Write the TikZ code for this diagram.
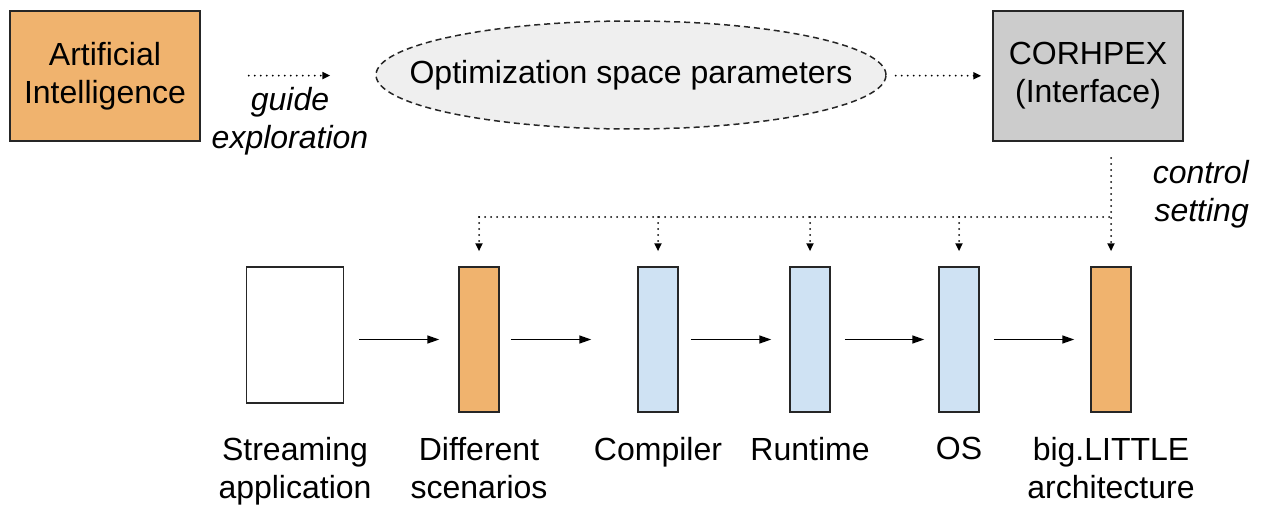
\documentclass[tikz,border=0pt]{standalone}
\usepackage{fontspec}
\setmainfont{Liberation Sans}
\usetikzlibrary{arrows.meta,shapes.geometric,positioning}

\definecolor{aiorange}{HTML}{F0B36E}
\definecolor{stageblue}{HTML}{CFE2F3}
\definecolor{ifgray}{HTML}{CCCCCC}
\definecolor{spacegray}{HTML}{EFEFEF}

\tikzset{
  block/.style={draw=black!85,line width=1.5pt,minimum width=190pt,minimum height=130pt,inner sep=0pt,align=center},
  space/.style={draw=black!85,line width=1.5pt,dash pattern=on 6pt off 4pt,fill=spacegray,ellipse,
                minimum width=510pt,minimum height=108pt,inner sep=0pt},
  stage/.style={draw=black!85,line width=1.5pt,minimum width=40pt,minimum height=145pt,inner sep=0pt},
  lbl/.style={inner sep=0pt,align=center,anchor=north},
  flow/.style={line width=1.5pt,-{Triangle[length=12pt,width=8pt]}},
  ctrl/.style={line width=2pt,line cap=round,dash pattern=on 0pt off 6pt},
  ctrltip/.style={ctrl,-{Triangle[length=8pt,width=7pt]}}
}

\begin{document}
\begin{tikzpicture}[x=1pt,y=-1pt,font=\fontsize{32}{38}\selectfont]
\useasboundingbox (0,0) rectangle (1261,506);

% top row
\node[block,fill=aiorange] (ai) at (105,76) {Artificial\\Intelligence};
\node[space] (opt) at (631,75) {};
\node (opttxt) at (opt) {Optimization space parameters};
\node[block,fill=ifgray] (corh) at (1088,76) {CORHPEX\\(Interface)};

\draw[ctrltip,shorten <=48pt,shorten >=45pt] (ai) -- (opt);
\draw[ctrltip,shorten <=9pt,shorten >=11pt] (opt) -- (corh);
\node[lbl] (guide) at (290,87) {\itshape guide\\\itshape exploration};

% bottom row
\node[stage,minimum width=97pt,minimum height=136pt] (app) at (295,335) {};
\node[stage,fill=aiorange] (diff) at (479,339.5) {};
\node[stage,fill=stageblue] (comp) at (658,339.5) {};
\node[stage,fill=stageblue] (run) at (810,339.5) {};
\node[stage,fill=stageblue] (os) at (959,339.5) {};
\node[stage,fill=aiorange] (big) at (1111,339.5) {};

\foreach \a/\b/\s/\t in {app/diff/15/19,diff/comp/11/46,comp/run/12/18,run/os/14/14,os/big/14/16}
  \draw[flow,shorten <=\s pt,shorten >=\t pt] (\a.east |- diff) -- (\b.west |- diff);

\def\names{app/{Streaming\\application},diff/{Different\\scenarios},comp/{Compiler},run/{Runtime},os/{OS},big/{big.LITTLE\\architecture}}
\foreach \n / \txt in \names
  \node[lbl] (l\n) at (\n.south |- 0,437) {\txt};

% control setting
\coordinate (tap) at (1111,158);
\coordinate (bus) at (1111,217);
\draw[ctrl] (bus -| diff.north) -- (bus);
\draw[ctrltip,shorten >=15pt] (tap) -- (big.north);
\foreach \n in {diff,comp,run,os}
  \draw[ctrltip,shorten >=15pt] (bus -| \n.north) -- (\n.north);
\node[lbl,anchor=north east,align=right] (ctl) at (1249,160) {\itshape control\\\itshape setting};

\end{tikzpicture}
\end{document}
